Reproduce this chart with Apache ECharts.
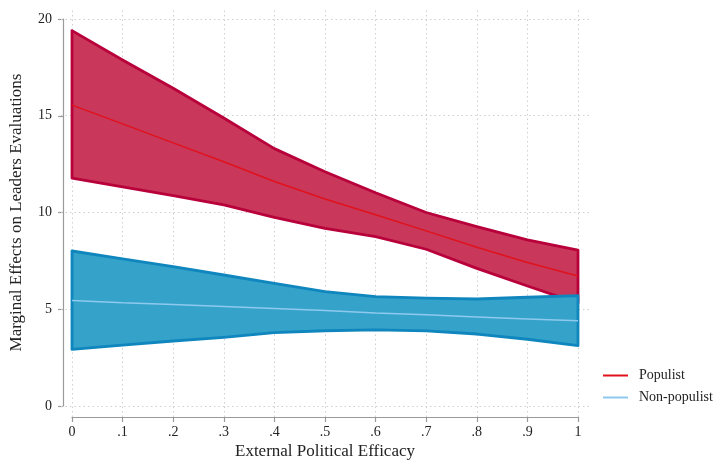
<!DOCTYPE html>
<html>
<head>
<meta charset="utf-8">
<title>Marginal Effects on Leaders Evaluations</title>
<script src="https://cdn.jsdelivr.net/npm/echarts@6/dist/echarts.min.js"></script>
<style>
  html, body { margin: 0; padding: 0; background: #ffffff; }
  #chart { width: 715px; height: 465px; }
</style>
</head>
<body>
<div id="chart"></div>
<script>
// External political efficacy values at which effects were evaluated
const efficacy = [0, 0.1, 0.2, 0.3, 0.4, 0.5, 0.6, 0.7, 0.8, 0.9, 1];

// Populist leaders: point estimate and 95% confidence bounds
const populistEst   = [15.55, 14.58, 13.60, 12.62, 11.60, 10.70, 9.88, 9.05, 8.20, 7.42, 6.72];
const populistLower = [11.78, 11.33, 10.87, 10.39, 9.75, 9.18, 8.75, 8.10, 7.11, 6.20, 5.32];
const populistUpper = [19.40, 17.88, 16.42, 14.88, 13.30, 12.11, 11.02, 10.00, 9.27, 8.58, 8.06];

// Non-populist leaders: point estimate and 95% confidence bounds
const nonPopEst   = [5.45, 5.34, 5.24, 5.14, 5.04, 4.93, 4.81, 4.71, 4.60, 4.50, 4.40];
const nonPopLower = [2.93, 3.15, 3.36, 3.55, 3.79, 3.89, 3.93, 3.88, 3.72, 3.45, 3.12];
const nonPopUpper = [8.01, 7.60, 7.20, 6.77, 6.34, 5.91, 5.65, 5.57, 5.53, 5.62, 5.70];

// Axis ticks
const xTicks = [0, 0.1, 0.2, 0.3, 0.4, 0.5, 0.6, 0.7, 0.8, 0.9, 1];
const xTickLabels = ['0', '.1', '.2', '.3', '.4', '.5', '.6', '.7', '.8', '.9', '1'];
const yTicks = [0, 5, 10, 15, 20];

const seriesNames = ['Populist', 'Non-populist'];

const FONT = 'Liberation Serif';
const AXIS_GREY = '#9a9a9a';
const pairs = (xs, ys) => xs.map((x, i) => [x, ys[i]]);

// Confidence band drawn as one closed polygon through the axis scales
function bandRenderer(lower, upper, fill, stroke) {
  return function (params, api) {
    if (params.dataIndex !== 0) return null;
    const pts = [];
    for (let i = 0; i < efficacy.length; i++) pts.push(api.coord([efficacy[i], upper[i]]));
    for (let i = efficacy.length - 1; i >= 0; i--) pts.push(api.coord([efficacy[i], lower[i]]));
    return {
      type: 'polygon',
      shape: { points: pts },
      style: { fill: fill, stroke: stroke, lineWidth: 2.8, lineJoin: 'round' }
    };
  };
}

const chart = echarts.init(document.getElementById('chart'), null, { renderer: 'canvas' });

const gridLineStyle = { color: '#cfcfcf', type: [1.5, 3], width: 1 };
const hiddenX = (g, min, max) => ({ gridIndex: g, type: 'value', min: min, max: max, show: false });

chart.setOption({
  backgroundColor: '#ffffff',
  animation: false,
  grid: [
    // 0: outer region holding the dotted reference grid
    { left: 61, right: 125, top: 8, bottom: 48 },
    // 1: plotting region, 0..1 by 0..20
    { left: 72, right: 137, top: 19, bottom: 59 },
    // 2: vertical axis, set slightly left of the plotting region
    { left: 61, right: 137, top: 19, bottom: 59 },
    // 3: horizontal axis, set slightly below the plotting region
    { left: 72, right: 137, top: 19, bottom: 48 }
  ],
  xAxis: [
    hiddenX(0, -0.02174, 1.02372),
    hiddenX(1, 0, 1),
    hiddenX(2, 0, 1),
    {
      gridIndex: 3, type: 'value', min: 0, max: 1, interval: 0.1,
      axisLine: { show: true, lineStyle: { color: AXIS_GREY, width: 1.2 } },
      axisTick: { show: true, length: 5, lineStyle: { color: AXIS_GREY, width: 1.2 } },
      splitLine: { show: false },
      axisLabel: {
        margin: 8, color: '#222', fontFamily: FONT, fontSize: 14,
        formatter: v => {
          const i = xTicks.findIndex(t => Math.abs(t - v) < 1e-9);
          return i >= 0 ? xTickLabels[i] : '';
        }
      },
      name: 'External Political Efficacy',
      nameLocation: 'middle', nameGap: 26, nameMoveOverlap: false,
      nameTextStyle: { color: '#222', fontFamily: FONT, fontSize: 17 }
    }
  ],
  yAxis: [
    hiddenX(0, -0.568, 20.568),
    hiddenX(1, 0, 20),
    {
      gridIndex: 2, type: 'value', min: 0, max: 20, interval: 5,
      axisLine: { show: true, lineStyle: { color: AXIS_GREY, width: 1.2 } },
      axisTick: { show: true, length: 5, lineStyle: { color: AXIS_GREY, width: 1.2 } },
      splitLine: { show: false },
      axisLabel: { margin: 11, color: '#222', fontFamily: FONT, fontSize: 14 },
      name: 'Marginal Effects on Leaders Evaluations',
      nameLocation: 'middle', nameGap: 38, nameMoveOverlap: false,
      nameTextStyle: { color: '#222', fontFamily: FONT, fontSize: 17 }
    },
    hiddenX(3, 0, 20)
  ],
  legend: {
    orient: 'vertical',
    left: 603, top: 368, padding: 0,
    icon: 'rect', itemWidth: 25, itemHeight: 2, itemGap: 7,
    data: seriesNames,
    textStyle: { color: '#222', fontFamily: FONT, fontSize: 14, lineHeight: 15, padding: [0, 0, 0, 6] }
  },
  series: [
    {
      // dotted reference grid
      type: 'line', xAxisIndex: 0, yAxisIndex: 0, data: [], silent: true, z: 1,
      markLine: {
        z: 1, silent: true, symbol: 'none', label: { show: false }, animation: false,
        lineStyle: gridLineStyle,
        data: xTicks.map(v => ({ xAxis: v })).concat(yTicks.map(v => ({ yAxis: v })))
      }
    },
    {
      type: 'custom', name: 'Populist CI', xAxisIndex: 1, yAxisIndex: 1, z: 10,
      data: [[0, 0]], silent: true,
      renderItem: bandRenderer(populistLower, populistUpper, '#c9375b', '#b8003b')
    },
    {
      type: 'line', name: seriesNames[0], xAxisIndex: 1, yAxisIndex: 1, z: 11,
      data: pairs(efficacy, populistEst), showSymbol: false, symbol: 'none',
      color: '#e0121c', lineStyle: { color: '#e0121c', width: 1.5 }
    },
    {
      type: 'custom', name: 'Non-populist CI', xAxisIndex: 1, yAxisIndex: 1, z: 12,
      data: [[0, 0]], silent: true,
      renderItem: bandRenderer(nonPopLower, nonPopUpper, '#35a2c9', '#0f86bd')
    },
    {
      type: 'line', name: seriesNames[1], xAxisIndex: 1, yAxisIndex: 1, z: 13,
      data: pairs(efficacy, nonPopEst), showSymbol: false, symbol: 'none',
      color: '#8ec9ef', lineStyle: { color: '#8ec9ef', width: 1.5 }
    }
  ]
});
</script>
</body>
</html>
